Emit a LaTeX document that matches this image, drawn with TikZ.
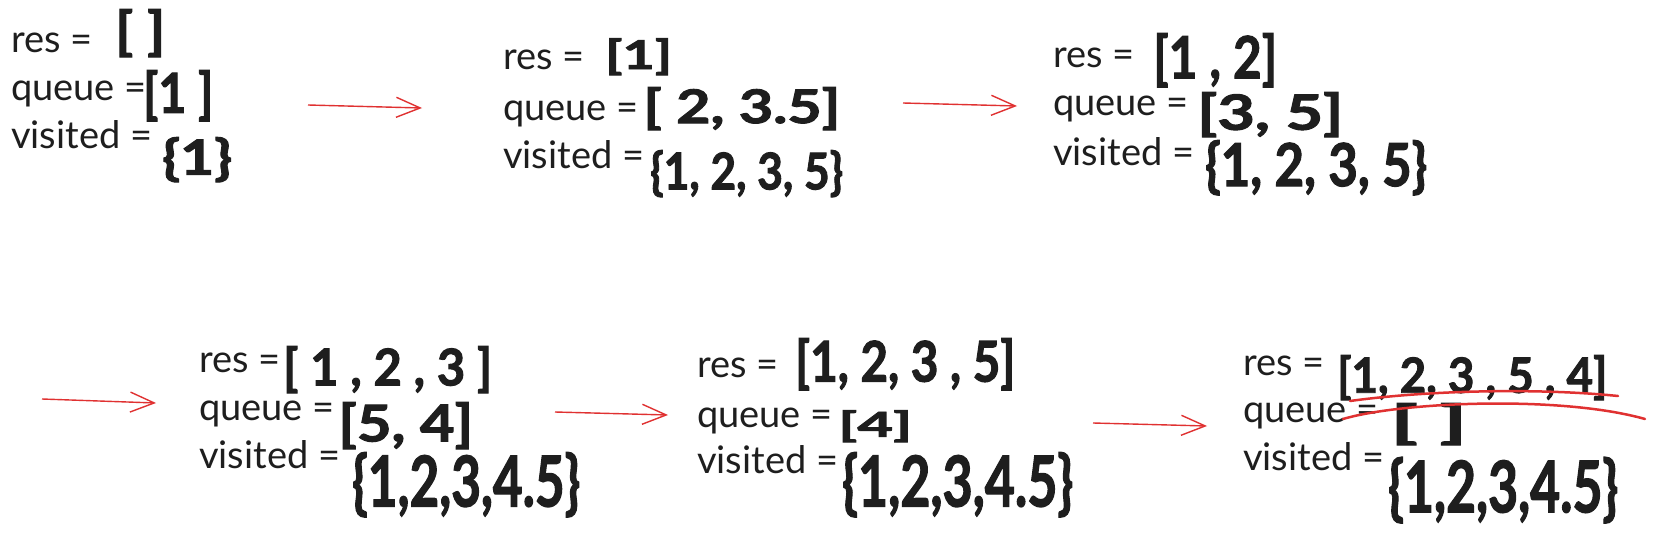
\documentclass[tikz,border=0pt]{standalone}
\usepackage{fontspec}
\usepackage{graphicx}
\setmainfont{Lato}
\newfontfamily\handfont{Lato}[BoldFeatures={FakeBold=2}]
\usetikzlibrary{arrows.meta}
\definecolor{ink}{HTML}{1E1E1E}
\definecolor{arrred}{HTML}{E03131}
\newcommand{\hw}[3]{\resizebox*{#1pt}{#2pt}{\handfont\bfseries #3}}
\tikzset{
  lbl/.style={anchor=base west, inner sep=0pt, font=\fontsize{38}{44}\selectfont, text=ink},
  val/.style={anchor=north west, inner sep=0pt, text=ink},
  arr/.style={draw=arrred, line width=1.4pt, -{Straight Barb[length=24pt,width=20pt]}},
  strike/.style={draw=arrred, line width=2.5pt, line cap=round}
}
\begin{document}
\begin{tikzpicture}[x=1pt,y=-1pt]
\useasboundingbox[fill=white] (0,0) rectangle (1655,535);
% Block 1
\node[lbl] (l1r) at (11,53) {res =};
\node[lbl] (l1q) at (11,100) {queue =};
\node[lbl] (l1v) at (11,148) {visited =};
\node[val] (v1r) at (115,9) {\hw{50}{48}{[ ]}};
\node[val] (v1q) at (143,70) {\hw{70}{51}{[1 ]}};
\node[val] (v1v) at (162,137) {\hw{70}{45}{\{1\}}};
% Block 2
\node[lbl] (l2r) at (503,70) {res =};
\node[lbl] (l2q) at (503,120) {queue =};
\node[lbl] (l2v) at (503,168) {visited =};
\node[val] (v2r) at (605,38) {\hw{67}{37}{[1]}};
\node[val] (v2q) at (643,87) {\hw{197}{43}{[ 2, 3.5]}};
\node[val] (v2v) at (650,150) {\hw{193}{47}{\{1, 2, 3, 5\}}};
% Block 3
\node[lbl] (l3r) at (1053,68) {res =};
\node[lbl] (l3q) at (1053,115) {queue =};
\node[lbl] (l3v) at (1053,165) {visited =};
\node[val] (v3r) at (1153,33) {\hw{124}{54}{[1 , 2]}};
\node[val] (v3q) at (1197,92) {\hw{146}{45}{[3, 5]}};
\node[val] (v3v) at (1205,140) {\hw{222}{55}{\{1, 2, 3, 5\}}};
% Block 4
\node[lbl] (l4r) at (199,372) {res =};
\node[lbl] (l4q) at (199,420) {queue =};
\node[lbl] (l4v) at (199,468) {visited =};
\node[val] (v4r) at (283,346) {\hw{209}{47}{[ 1 , 2 , 3 ]}};
\node[val] (v4q) at (338,402) {\hw{135}{47}{[5, 4]}};
\node[val] (v4v) at (352,452) {\hw{228}{65}{\{1,2,3,4.5\}}};
% Block 5
\node[lbl] (l5r) at (697,377) {res =};
\node[lbl] (l5q) at (697,427) {queue =};
\node[lbl] (l5v) at (697,473) {visited =};
\node[val] (v5r) at (795,338) {\hw{220}{52}{[1, 2, 3 , 5]}};
\node[val] (v5q) at (838,410) {\hw{74}{32}{[4]}};
\node[val] (v5v) at (842,452) {\hw{231}{65}{\{1,2,3,4.5\}}};
% Block 6
\node[lbl] (l6r) at (1243,375) {res =};
\node[lbl] (l6q) at (1243,422) {queue =};
\node[lbl] (l6v) at (1243,470) {visited =};
\node[val] (v6r) at (1337,355) {\hw{270}{45}{[1, 2, 3 , 5 , 4]}};
\node[val] (v6q) at (1390,403) {\hw{77}{42}{[ ]}};
\node[val] (v6v) at (1388,457) {\hw{230}{66}{\{1,2,3,4.5\}}};
% arrows
\coordinate (a1s) at (308,105); \coordinate (a1e) at (422,108);
\coordinate (a2s) at (903,103); \coordinate (a2e) at (1017,106);
\coordinate (a3s) at (42,399);  \coordinate (a3e) at (156,403);
\coordinate (a4s) at (555,412); \coordinate (a4e) at (668,415);
\coordinate (a5s) at (1093,423); \coordinate (a5e) at (1207,426);
\draw[arr] (a1s) -- (a1e);
\draw[arr] (a2s) -- (a2e);
\draw[arr] (a3s) -- (a3e);
\draw[arr] (a4s) -- (a4e);
\draw[arr] (a5s) -- (a5e);
% strike-through lines
\coordinate (s1s) at (1350,401); \coordinate (s1e) at (1618,396);
\coordinate (s2s) at (1343,419); \coordinate (s2e) at (1645,419);
\draw[strike] (s1s) .. controls (1430,390) and (1540,388) .. (s1e);
\draw[strike] (s2s) .. controls (1400,402) and (1560,395) .. (s2e);
\end{tikzpicture}
\end{document}
